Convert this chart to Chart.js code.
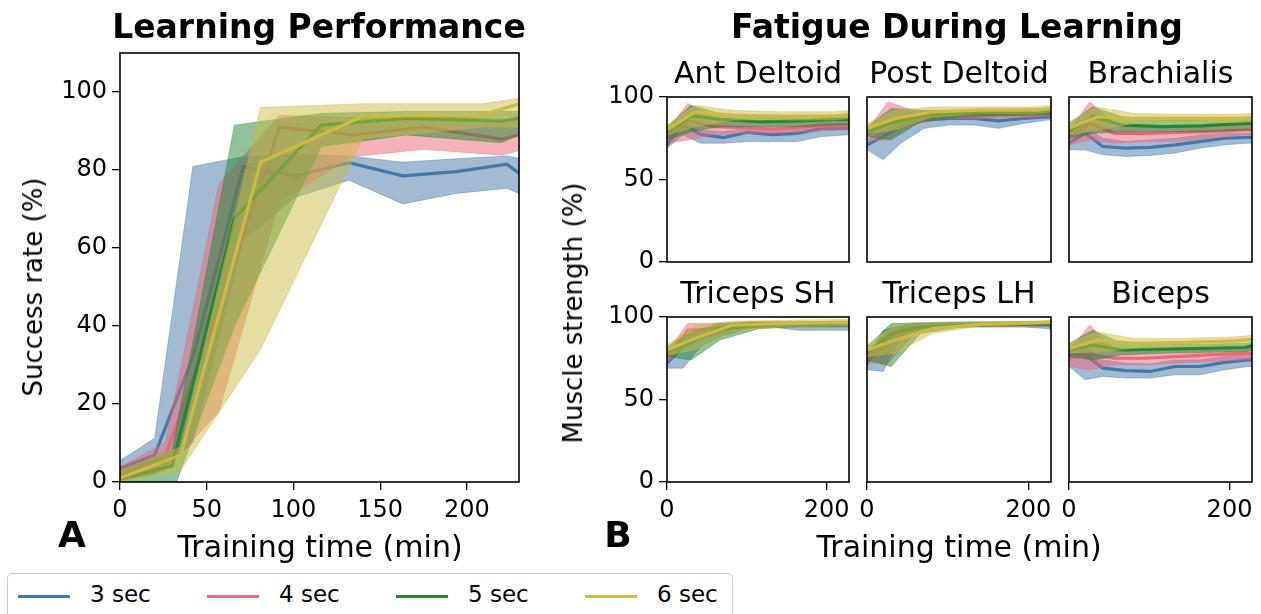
<!DOCTYPE html>
<html><head><meta charset="utf-8">
<script src="https://cdn.jsdelivr.net/npm/chart.js@4/dist/chart.umd.min.js"></script>
<style>
html,body{margin:0;padding:0;background:#fff;}
body{width:1261px;height:614px;position:relative;overflow:hidden;font-family:"DejaVu Sans",sans-serif;color:#000;}
canvas{position:absolute;}
.t{position:absolute;white-space:nowrap;line-height:1;transform:translate(-50%,-50%);}
.rot{transform:translate(-50%,-50%) rotate(-90deg);}
#legend{position:absolute;left:7px;top:573px;width:726px;height:60px;border:1.3px solid #ccc;border-radius:5px;box-sizing:border-box;}
.li{position:absolute;top:21px;height:3px;}
.lt{position:absolute;top:9px;font-size:23px;line-height:1;}
</style></head><body>
<script>
// ---------- data ----------
const seriesLabels = ['3 sec', '4 sec', '5 sec', '6 sec'];
const seriesColors = ['#4477AA', '#EE6677', '#228833', '#CCBB44'];
// training time (min) of each measurement, per trial duration
const time3 = [0, 20, 42, 71, 101, 132, 163, 194, 223, 230];
const time4 = [0, 26, 57, 92, 134, 175, 220, 230];
const time5 = [0, 30, 66, 116, 165, 220, 230];
const time6 = [0, 35, 81, 140, 209, 230];

// Panel A: success rate (%)
const successMean = [
  [3.5, 6.9, 32, 80.8, 78.5, 81.9, 78.5, 79.6, 81.5, 79.2],
  [1.8, 6.5, 45, 91, 89, 91, 87.9, 89],
  [0.8, 4.1, 67.6, 91.5, 93.2, 92.5, 93.3],
  [1, 6.9, 82, 93.8, 94.1, 97]
];
const successLo = [
  [0.5, 2, 10, 62, 73, 77.4, 71.3, 74, 75.3, 74],
  [0, 3, 18, 72, 83.4, 85.3, 83.8, 85],
  [0, -3, 40, 86, 89, 87, 89],
  [0, 3, 34, 88, 91, 91]
];
const successHi = [
  [5.5, 11.2, 80.9, 83.4, 84, 83.6, 82, 82.9, 83.6, 83],
  [4, 10, 76.5, 94, 93.5, 94, 93, 93],
  [3, 8, 91.5, 94.5, 95, 95, 95],
  [3, 9, 96, 97, 97, 98.4]
];

// Panel B: muscle strength (%)
const muscleNames = ['Ant Deltoid', 'Post Deltoid', 'Brachialis', 'Triceps SH', 'Triceps LH', 'Biceps'];
const antDeltoidMean = [[71, 83, 77.4, 75.4, 78.6, 77.2, 78, 81, 81, 81],[75, 86, 82, 81.5, 80.5, 82, 83, 83],[78, 88.5, 86.5, 85, 85.5, 86.5, 86.5],[80, 91, 89, 88.5, 88.5, 89.5]];
const antDeltoidLo   = [[69, 77, 72, 72, 73, 73, 73, 76, 77, 77],[72, 74, 77, 78, 78, 79, 80, 80],[74, 79, 82, 82, 82, 83, 83],[77, 82, 86, 86, 86, 87]];
const antDeltoidHi   = [[74, 86, 80, 79, 81, 81, 82, 84, 84, 84],[80, 96, 88, 85, 84, 85, 86, 86],[82, 95, 90, 88, 88, 89, 89],[83, 95, 92, 91, 91, 92]];
const postDeltoidMean = [[71, 76, 82, 86, 87, 87, 85.5, 87, 88, 88],[77, 84, 87, 89, 89, 89.5, 90, 90],[79, 84, 89, 90, 90.5, 91, 91],[81, 87, 91, 92, 92, 93]];
const postDeltoidLo   = [[68, 62, 72, 81, 83, 83, 81, 84, 86, 86],[73, 74, 83, 87, 87, 87.5, 88, 88],[76, 74, 85, 88, 88.5, 89, 89],[78, 80, 88, 90, 90, 91]];
const postDeltoidHi   = [[74, 80, 85, 88, 89, 89, 88, 89, 90, 90],[80, 97, 92, 91, 91, 92, 92, 92],[82, 93, 92, 92, 92.5, 93, 93],[84, 92, 94, 94, 94, 95]];
const brachialisMean = [[72, 78, 70, 69, 69.5, 71, 73, 75, 75.5, 75.5],[76, 84, 78, 78, 78.5, 79, 80, 80],[79, 88, 83, 82, 82.5, 84, 84],[81, 88, 87, 87, 87, 87.5]];
const brachialisLo   = [[68, 68, 65, 64, 64.5, 66, 69, 71, 72, 72],[71, 74, 72, 73, 73, 75, 77, 77],[75, 78, 79, 79, 79, 80, 80],[77, 80, 84, 84.5, 84.5, 85]];
const brachialisHi   = [[76, 82, 75, 73, 74, 75, 77, 78, 78, 78],[80, 97, 84, 82, 82, 83, 83, 83],[84, 94, 88, 86, 86, 87, 87],[85, 94, 90, 89.5, 89.5, 90]];
const tricepsSHMean = [[72, 82, 88, 92, 95, 96, 95, 95, 95, 95],[75, 92, 93, 95, 95.5, 95.5, 95.5, 95.5],[79, 85, 93, 95, 95.5, 96, 96],[80, 87, 95, 96, 96.5, 96.5]];
const tricepsSHLo   = [[69, 69, 82, 89, 93, 94, 92, 92, 92, 92],[72, 84, 89, 93, 94, 94, 94, 94],[76, 74, 86, 93, 94, 94, 94],[77, 80, 91, 94, 94.5, 94.5]];
const tricepsSHHi   = [[75, 88, 92, 95, 97, 97, 97, 97, 97, 97],[79, 96, 96, 97, 97, 97, 97, 97],[82, 91, 96, 97, 97, 97.5, 97.5],[83, 95, 97.5, 98, 98.5, 98.5]];
const tricepsLHMean = [[72, 85, 92, 94, 95, 95.5, 95.5, 95.5, 95, 94],[75, 84, 93, 95, 95.5, 96, 96, 96],[78, 90, 94, 95, 95.5, 96, 96],[80, 86, 93, 95.5, 96.5, 97]];
const tricepsLHLo   = [[68, 67, 88, 92, 93.5, 94, 94, 94, 93, 92],[72, 72, 89, 94, 94, 94, 94, 94],[74, 70, 90, 94, 94.5, 95, 95],[76, 78, 90, 94.5, 95.5, 96]];
const tricepsLHHi   = [[75, 92, 95, 96, 96.5, 97, 97, 97, 97, 96],[78, 92, 96, 96, 96.5, 97, 97, 97],[82, 96, 96.5, 97, 97, 97.5, 97.5],[83, 95, 96, 97, 97.5, 98]];
const bicepsMean = [[77, 77, 69, 67.5, 67, 70, 70, 72.5, 74, 74],[75, 77, 75, 75, 76, 77, 78, 78],[80, 83, 80, 80.5, 81, 81.5, 83],[81, 86, 84, 84.5, 85.5, 86.5]];
const bicepsLo   = [[70, 62, 64, 63, 63, 65, 65, 68, 70, 70],[70, 68, 71, 71, 72, 73, 74, 74],[76, 74, 77, 78, 78.5, 79, 80],[78, 79, 81, 82, 83, 84]];
const bicepsHi   = [[80, 82, 74, 72, 71.5, 74, 74, 76, 78, 78],[80, 95, 80, 79, 80, 81, 82, 82],[84, 92, 84, 83.5, 83.5, 84, 85],[84, 91, 87, 87, 88, 89]];

const successTicks = [0, 20, 40, 60, 80, 100];
const strengthTicks = [0, 50, 100];
const timeTicksA = [0, 50, 100, 150, 200];
const timeTicksB = [0, 200];

// ---------- rendering ----------
const times = [time3, time4, time5, time6];
const FONT = 'DejaVu Sans';
function rgba(hex, a) {
  const n = parseInt(hex.slice(1), 16);
  return `rgba(${n >> 16},${(n >> 8) & 255},${n & 255},${a})`;
}
function buildDatasets(mean, lo, hi) {
  const ds = [];
  for (let s = 0; s < 4; s++) {
    const pts = arr => times[s].map((x, i) => ({ x, y: arr[s][i] }));
    const band = rgba(seriesColors[s], 0.5);
    ds.push({ data: pts(hi), borderColor: band, borderWidth: 0.8, backgroundColor: band, fill: '+1', pointRadius: 0, order: 100 - s * 3 });
    ds.push({ data: pts(lo), borderColor: band, borderWidth: 0.8, fill: false, pointRadius: 0, order: 99 - s * 3 });
    ds.push({ data: pts(mean), borderColor: seriesColors[s], borderWidth: 3.2, fill: false, pointRadius: 0, order: 98 - s * 3 });
  }
  return ds;
}
const framePlugin = {
  id: 'frame',
  afterDatasetsDraw(chart) {
    const { ctx, chartArea: a } = chart;
    ctx.save(); ctx.strokeStyle = '#000'; ctx.lineWidth = 1.6;
    ctx.strokeRect(a.left, a.top, a.right - a.left, a.bottom - a.top);
    ctx.restore();
  }
};
function axis(show, tickVals, min, max, fit, size, pad) {
  return {
    type: 'linear', display: show, min, max,
    afterBuildTicks: sc => { sc.ticks = tickVals.map(v => ({ value: v })); },
    afterFit: sc => { sc[fit] = show ? size : 0; },
    grid: { display: true, drawOnChartArea: false, drawTicks: true, tickLength: 8, color: '#000', lineWidth: 1.3 },
    border: { display: false },
    ticks: { color: '#000', font: { family: FONT, size: 24 }, padding: pad, maxRotation: 0, autoSkip: false }
  };
}
function makeChart(plot, opt) {
  const pad = 32;
  const yw = opt.showY ? opt.yw : 0, xh = opt.showX ? opt.xh : 0;
  const padB = opt.showX ? 0 : pad;
  const left = plot.l - yw - pad, top = plot.t - pad;
  const w = plot.r + pad - left, h = plot.b + xh + padB - top;
  const c = document.createElement('canvas');
  c.width = w; c.height = h;
  c.style.left = left + 'px'; c.style.top = top + 'px';
  c.style.width = w + 'px'; c.style.height = h + 'px';
  document.body.appendChild(c);
  new Chart(c, {
    type: 'line',
    data: { datasets: buildDatasets(opt.mean, opt.lo, opt.hi) },
    options: {
      responsive: false, animation: false, events: [],
      devicePixelRatio: 1,
      layout: { padding: { left: pad, top: pad, right: pad, bottom: padB } },
      plugins: { legend: { display: false }, tooltip: { enabled: false } },
      elements: { line: { tension: 0 } },
      scales: {
        x: axis(opt.showX, opt.xTicks, 0, opt.xMax, 'height', opt.xh, 6),
        y: axis(opt.showY, opt.yTicks, 0, opt.yMax, 'width', opt.yw, 5)
      }
    },
    plugins: [framePlugin]
  });
}
function text(str, x, y, style, cls) {
  const d = document.createElement('div');
  d.className = 't' + (cls ? ' ' + cls : '');
  d.textContent = str;
  d.style.left = x + 'px'; d.style.top = y + 'px';
  d.style.cssText += style;
  document.body.appendChild(d);
}

// Panel A
makeChart({ l: 120, t: 53, r: 519, b: 482 }, {
  mean: successMean, lo: successLo, hi: successHi,
  showX: true, showY: true, xTicks: timeTicksA, yTicks: successTicks, xMax: 230, yMax: 110, yw: 80, xh: 50
});
// Panel B
const colsL = [667, 867, 1069], colsR = [849, 1051, 1252];
const rowsT = [97, 317], rowsB = [262, 482];
const bData = [
  [antDeltoidMean, antDeltoidLo, antDeltoidHi], [postDeltoidMean, postDeltoidLo, postDeltoidHi],
  [brachialisMean, brachialisLo, brachialisHi], [tricepsSHMean, tricepsSHLo, tricepsSHHi],
  [tricepsLHMean, tricepsLHLo, tricepsLHHi], [bicepsMean, bicepsLo, bicepsHi]
];
bData.forEach((d, k) => {
  const r = Math.floor(k / 3), c = k % 3;
  makeChart({ l: colsL[c], t: rowsT[r], r: colsR[c], b: rowsB[r] }, {
    mean: d[0], lo: d[1], hi: d[2],
    showX: r === 1, showY: c === 0, xTicks: timeTicksB, yTicks: strengthTicks, xMax: 228, yMax: 100, yw: 62, xh: 50
  });
  text(muscleNames[k], (colsL[c] + colsR[c]) / 2, rowsT[r] - 24, 'font-size:30px;');
});

text('Learning Performance', 319, 26, 'font-size:33px;font-weight:bold;');
text('Fatigue During Learning', 957, 26, 'font-size:33px;font-weight:bold;');
text('Success rate (%)', 33, 287, 'font-size:26px;', 'rot');
text('Muscle strength (%)', 573, 313, 'font-size:26px;', 'rot');
text('Training time (min)', 320, 547, 'font-size:30px;');
text('Training time (min)', 959, 547, 'font-size:30px;');
text('A', 72, 535, 'font-size:36px;font-weight:bold;');
text('B', 618, 535, 'font-size:36px;font-weight:bold;');

// legend
const leg = document.createElement('div');
leg.id = 'legend';
document.body.appendChild(leg);
seriesLabels.forEach((lab, i) => {
  const x0 = 10 + i * 189;
  const ln = document.createElement('div');
  ln.className = 'li'; ln.style.left = x0 + 'px'; ln.style.width = '52px'; ln.style.background = seriesColors[i];
  leg.appendChild(ln);
  const tx = document.createElement('div');
  tx.className = 'lt'; tx.style.left = (x0 + 72) + 'px'; tx.textContent = lab;
  leg.appendChild(tx);
});
</script>
</body></html>
